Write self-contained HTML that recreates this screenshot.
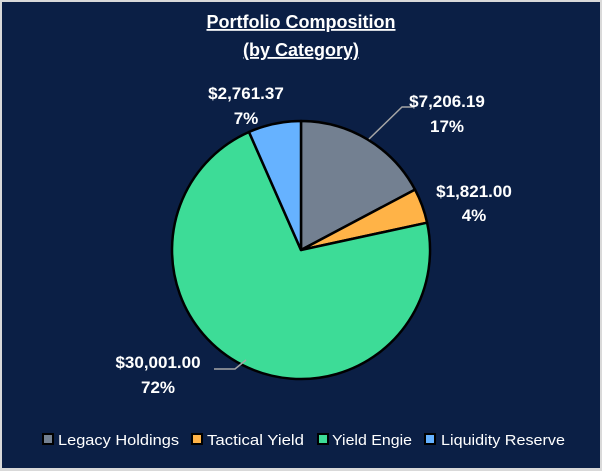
<!DOCTYPE html>
<html><head><style>
html,body{margin:0;padding:0;}
body{width:602px;height:471px;background:#d9d9d9;position:relative;overflow:hidden;font-family:"Liberation Sans",sans-serif;}
#c{position:absolute;left:2px;top:2px;width:598px;height:466px;background:#0b1f45;}
</style></head><body>
<div id="c"></div>
<svg width="602" height="471" style="position:absolute;left:0;top:0" font-family="Liberation Sans, sans-serif">
<text x="301" y="28" fill="#fff" font-size="18" font-weight="bold" text-anchor="middle" text-decoration="underline">Portfolio Composition</text>
<text x="301" y="56" fill="#fff" font-size="18" font-weight="bold" text-anchor="middle" text-decoration="underline">(by Category)</text>
<g stroke="#000" stroke-width="2.5" stroke-linejoin="round">
<path d="M301,250 L301,121 A129,129 0 0 1 415,189.6 Z" fill="#738091"/>
<path d="M301,250 L415,189.6 A129,129 0 0 1 427.1,222.7 Z" fill="#ffb347"/>
<path d="M301,250 L427.1,222.7 A129,129 0 1 1 249,132 Z" fill="#3ddc97"/>
<path d="M301,250 L249,132 A129,129 0 0 1 301,121 Z" fill="#66b2ff"/>
</g>
<polyline points="369,139 402,107 413,107" fill="none" stroke="#a6a6a6" stroke-width="1.5"/>
<polyline points="214,369 235,369 246,360" fill="none" stroke="#a6a6a6" stroke-width="1.5"/>
<g fill="#fff" font-size="17" font-weight="bold" text-anchor="middle">
<text x="447" y="107">$7,206.19</text><text x="447" y="132">17%</text>
<text x="474" y="197">$1,821.00</text><text x="474" y="221">4%</text>
<text x="158" y="368">$30,001.00</text><text x="158" y="393">72%</text>
<text x="246" y="99">$2,761.37</text><text x="246" y="124">7%</text>
</g>
<g stroke="#000" stroke-width="2">
<rect x="43" y="434" width="10" height="10" fill="#738091"/>
<rect x="192" y="434" width="10" height="10" fill="#ffb347"/>
<rect x="318" y="434" width="10" height="10" fill="#3ddc97"/>
<rect x="425" y="434" width="10" height="10" fill="#66b2ff"/>
</g>
<g fill="#fff" font-size="15">
<text x="58" y="445" textLength="121" lengthAdjust="spacingAndGlyphs">Legacy Holdings</text>
<text x="207" y="445" textLength="97" lengthAdjust="spacingAndGlyphs">Tactical Yield</text>
<text x="332" y="445" textLength="80" lengthAdjust="spacingAndGlyphs">Yield Engie</text>
<text x="441" y="445" textLength="124" lengthAdjust="spacingAndGlyphs">Liquidity Reserve</text>
</g>
</svg>
</body></html>
